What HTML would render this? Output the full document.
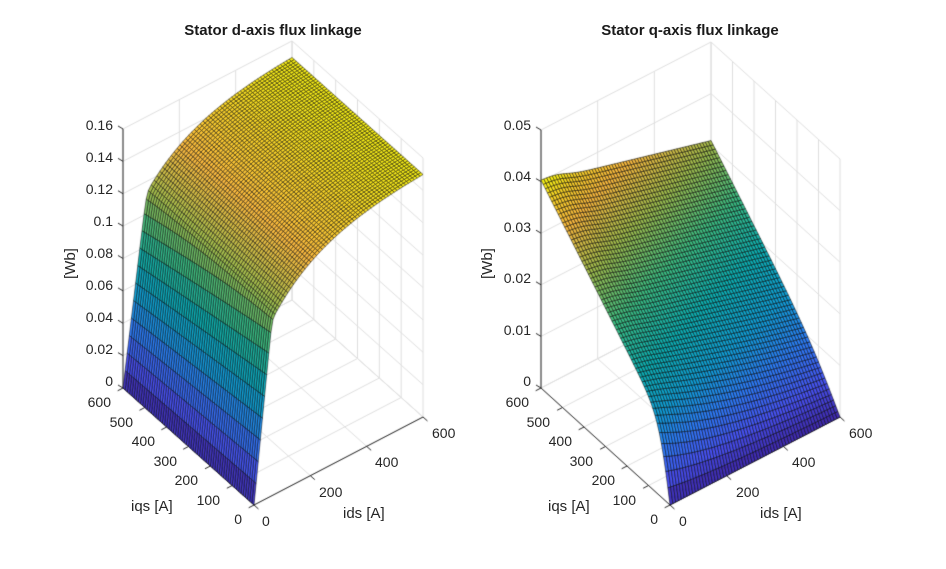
<!DOCTYPE html>
<html><head><meta charset="utf-8">
<style>
body{margin:0;background:#fff;}
#wrap{position:relative;width:946px;height:569px;overflow:hidden;background:#fff;font-family:"Liberation Sans",sans-serif;color:#262626;}
canvas{position:absolute;left:0;top:0;}
.t{position:absolute;font-size:14px;line-height:16px;white-space:nowrap;}
.r{text-align:right;width:60px;}
.ttl{position:absolute;font-size:15px;font-weight:bold;line-height:18px;text-align:center;width:300px;color:#1a1a1a;}
.al{position:absolute;font-size:15px;line-height:18px;white-space:nowrap;}
</style></head><body>
<div id="wrap">
<canvas id="c" width="946" height="569"></canvas>

<div class="ttl" style="left:123px;top:22px;">Stator d-axis flux linkage</div>
<div class="ttl" style="left:540px;top:22px;">Stator q-axis flux linkage</div>

<div class="t r" style="left:53px;top:117px;">0.16</div>
<div class="t r" style="left:53px;top:149px;">0.14</div>
<div class="t r" style="left:53px;top:181px;">0.12</div>
<div class="t r" style="left:53px;top:213px;">0.1</div>
<div class="t r" style="left:53px;top:245px;">0.08</div>
<div class="t r" style="left:53px;top:277px;">0.06</div>
<div class="t r" style="left:53px;top:309px;">0.04</div>
<div class="t r" style="left:53px;top:341px;">0.02</div>
<div class="t r" style="left:53px;top:373px;">0</div>
<div class="t r" style="left:51px;top:394px;">600</div>
<div class="t r" style="left:73px;top:414px;">500</div>
<div class="t r" style="left:95px;top:433px;">400</div>
<div class="t r" style="left:117px;top:453px;">300</div>
<div class="t r" style="left:138px;top:472px;">200</div>
<div class="t r" style="left:160px;top:492px;">100</div>
<div class="t r" style="left:182px;top:511px;">0</div>
<div class="t" style="left:262px;top:513px;">0</div>
<div class="t" style="left:319px;top:484px;">200</div>
<div class="t" style="left:375px;top:454px;">400</div>
<div class="t" style="left:432px;top:425px;">600</div>
<div class="al" style="left:131px;top:498px;">iqs [A]</div>
<div class="al" style="left:343px;top:505px;">ids [A]</div>
<div class="al" style="left:52px;top:251px;transform:rotate(-90deg);transform-origin:19px 9px;">[Wb]</div>

<div class="t r" style="left:471px;top:117px;">0.05</div>
<div class="t r" style="left:471px;top:168px;">0.04</div>
<div class="t r" style="left:471px;top:219px;">0.03</div>
<div class="t r" style="left:471px;top:270px;">0.02</div>
<div class="t r" style="left:471px;top:322px;">0.01</div>
<div class="t r" style="left:471px;top:373px;">0</div>
<div class="t r" style="left:469px;top:394px;">600</div>
<div class="t r" style="left:490px;top:414px;">500</div>
<div class="t r" style="left:512px;top:433px;">400</div>
<div class="t r" style="left:533px;top:453px;">300</div>
<div class="t r" style="left:555px;top:472px;">200</div>
<div class="t r" style="left:576px;top:492px;">100</div>
<div class="t r" style="left:598px;top:511px;">0</div>
<div class="t" style="left:679px;top:513px;">0</div>
<div class="t" style="left:736px;top:484px;">200</div>
<div class="t" style="left:792px;top:454px;">400</div>
<div class="t" style="left:849px;top:425px;">600</div>
<div class="al" style="left:548px;top:498px;">iqs [A]</div>
<div class="al" style="left:760px;top:505px;">ids [A]</div>
<div class="al" style="left:469px;top:251px;transform:rotate(-90deg);transform-origin:19px 9px;">[Wb]</div>
</div>

<script>
(function(){
var cv=document.getElementById('c'),g=cv.getContext('2d');
var stops=[[0,62,38,168],[0.11,72,82,244],[0.24,44,125,248],[0.36,16,160,218],[0.49,12,177,180],[0.62,60,190,130],[0.75,160,190,77],[0.87,252,186,62],[0.94,250,210,40],[1,249,251,14]];
function cmap(v){v=Math.max(0,Math.min(1,v));for(var i=1;i<stops.length;i++){if(v<=stops[i][0]){var a=stops[i-1],b=stops[i],f=(v-a[0])/(b[0]-a[0]);return 'rgb('+Math.round(a[1]+f*(b[1]-a[1]))+','+Math.round(a[2]+f*(b[2]-a[2]))+','+Math.round(a[3]+f*(b[3]-a[3]))+')';}}return 'rgb(249,251,14)';}
function plot(P){
 var A=P.A,B=P.B,C=P.C,k=P.k;
 function pr(s,t,z){return [B[0]+s*(C[0]-B[0])+t*(A[0]-B[0]), B[1]+s*(C[1]-B[1])+t*(A[1]-B[1])-z*k];}
 function ln(p,q,col,w){g.strokeStyle=col;g.lineWidth=w;g.beginPath();g.moveTo(p[0],p[1]);g.lineTo(q[0],q[1]);g.stroke();}
 var gc='#dedede',zm=P.zmax;
 [0,1/3,2/3,1].forEach(function(s){ln(pr(s,0,0),pr(s,1,0),gc,1);});
 for(var i=0;i<=6;i++){var t=i/6;ln(pr(0,t,0),pr(1,t,0),gc,1);}
 [0,1/3,2/3,1].forEach(function(s){ln(pr(s,1,0),pr(s,1,zm),gc,1);});
 P.zt.forEach(function(z){ln(pr(0,1,z),pr(1,1,z),gc,1);ln(pr(1,0,z),pr(1,1,z),gc,1);});
 for(var i=0;i<=6;i++){var t=i/6;ln(pr(1,t,0),pr(1,t,zm),gc,1);}
 var ac='#262626';
 ln(pr(0,1,0),pr(0,1,zm),ac,1);ln(pr(0,1,0),pr(0,0,0),ac,1);ln(pr(0,0,0),pr(1,0,0),ac,1);
 P.zt.forEach(function(z){var p=pr(0,1,z);ln(p,[p[0]-5,p[1]-3],ac,1);});
 var ux=(C[0]-B[0]),uy=(C[1]-B[1]),ul=Math.hypot(ux,uy);
 var vx=(A[0]-B[0]),vy=(A[1]-B[1]),vl=Math.hypot(vx,vy);
 for(var i=0;i<=6;i++){var p=pr(0,i/6,0);ln(p,[p[0]-6*ux/ul,p[1]-6*uy/ul],ac,1);}
 for(var i=0;i<=3;i++){var p=pr(i/3,0,0);ln(p,[p[0]-6*vx/vl,p[1]-6*vy/vl],ac,1);}
 var S=P.S,T=[];for(var j=0;j<=60;j++)T.push(j*10);
 var Z=[];for(var i=0;i<S.length;i++){Z.push([]);for(var j=0;j<T.length;j++)Z[i].push(P.f(S[i],T[j]));}
 var q=[];
 for(var i=0;i<S.length-1;i++)for(var j=0;j<T.length-1;j++){
  var s0=S[i]/600,s1=S[i+1]/600,t0=T[j]/600,t1=T[j+1]/600;
  var d=-(88*(s0+s1)+117*(t0+t1));
  q.push([d,[pr(s0,t0,Z[i][j]),pr(s1,t0,Z[i+1][j]),pr(s1,t1,Z[i+1][j+1]),pr(s0,t1,Z[i][j+1])],(Z[i][j]+Z[i+1][j]+Z[i+1][j+1]+Z[i][j+1])/4]);
 }
 q.sort(function(a,b){return b[0]-a[0];});
 var cm=P.cmax;
 g.lineJoin='round';
 q.forEach(function(o){var p=o[1];g.beginPath();g.moveTo(p[0][0],p[0][1]);for(var m=1;m<4;m++)g.lineTo(p[m][0],p[m][1]);g.closePath();g.fillStyle=cmap(o[2]/cm);g.fill();g.strokeStyle='rgba(0,0,0,0.85)';g.lineWidth=0.6;g.stroke();});
}
function fd(ids,iqs){var tq=iqs/600,m=0.0017-0.00035*tq,f1=m*ids,f2=0.09+0.062*(1-Math.exp(-ids/180)),kk=0.004;var mn=Math.min(f1,f2);return mn-kk*Math.log(1+Math.exp(-Math.abs(f1-f2)/kk));}
function fq(ids,iqs){var a=0.0133-0.0091*(ids/600);var th=Math.tanh(iqs/(52+100*ids/600));return a*th+4.45e-5*iqs+0.0006*Math.exp(-Math.pow((ids-50)/60,2))*th*(iqs/600);}
var SL=[];for(var i=0;i<12;i++)SL.push(i*7.5);for(var i=0;i<=50;i++)SL.push(90+i*10.2);
var SR=[];for(var i=0;i<=60;i++)SR.push(i*10);
plot({A:[123,388],B:[254,505],C:[423,417],k:1619,zmax:0.16,zt:[0,0.02,0.04,0.06,0.08,0.1,0.12,0.14,0.16],S:SL,f:fd,cmax:0.152});
plot({A:[541,388],B:[670,505],C:[840,417],k:5160,zmax:0.05,zt:[0,0.01,0.02,0.03,0.04,0.05],S:SR,f:fq,cmax:0.0405});
})();
</script>
</body></html>
